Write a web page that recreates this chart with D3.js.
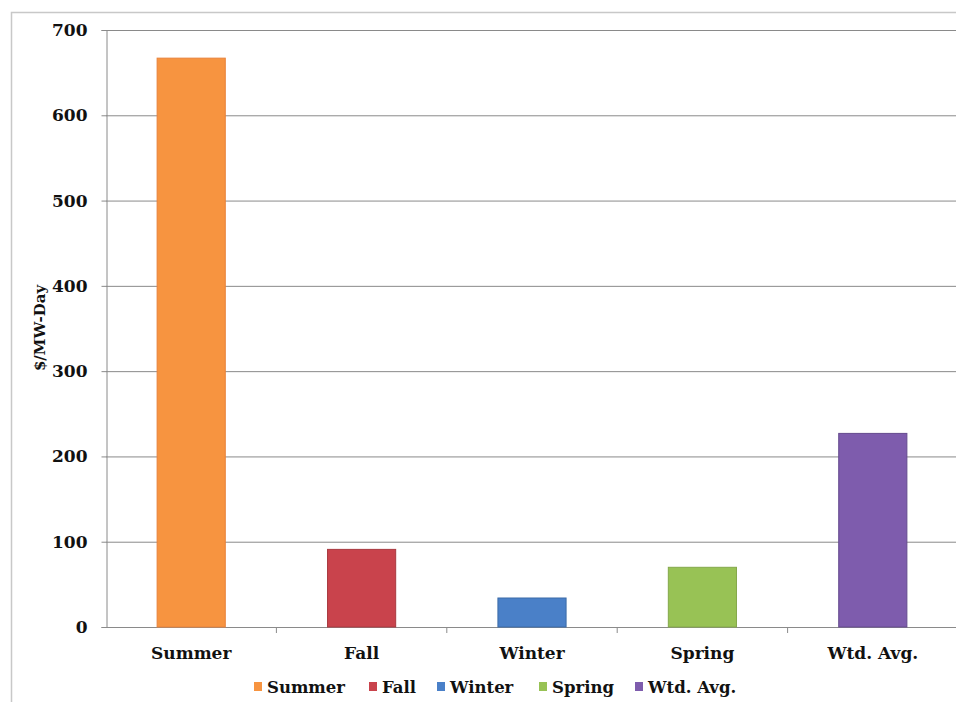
<!DOCTYPE html>
<html><head><meta charset="utf-8">
<script src="https://cdn.jsdelivr.net/npm/d3@7"></script>
<style>body{margin:0;background:#fff}svg{display:block}</style>
</head><body>
<script>
const categories = ["Summer","Fall","Winter","Spring","Wtd. Avg."];
const values = [667, 91, 34, 70, 227];
const colors = ["#F79440","#C9434C","#4A80C8","#98C255","#7E5CAD"];
const strokes = ["#E8823A","#A83A40","#3B6BA8","#84A84A","#654B8E"];
const yTicks = [0,100,200,300,400,500,600,700];

const W = 956, H = 702;
const svg = d3.select("body").append("svg").attr("width", W).attr("height", H);
const font = "'DejaVu Serif', serif";

// frame
svg.append("path").attr("d", `M11.5,${H} V12.5 H${W}`).attr("fill","none").attr("stroke","#c8c8c8").attr("stroke-width",1.5);

const x = d3.scaleBand().domain(categories).range([106, 958]).paddingInner(0.6).paddingOuter(0.3);
const y = d3.scaleLinear().domain([0,700]).range([627, 30]);

// gridlines
svg.append("g").selectAll("line").data(yTicks.filter(d=>d>0)).join("line")
  .attr("x1",106).attr("x2",W).attr("y1",d=>y(d)+0.5).attr("y2",d=>y(d)+0.5)
  .attr("stroke","#8a8a8a").attr("stroke-width",1);

// y axis
const yAxis = svg.append("g").attr("transform","translate(106.5,0)")
  .call(d3.axisLeft(y).tickValues(yTicks).tickSize(5).tickPadding(14));
yAxis.select(".domain").attr("stroke","#8a8a8a");
yAxis.selectAll(".tick line").attr("stroke","#8a8a8a");
yAxis.selectAll("text").attr("font-family",font).attr("font-weight","bold").attr("font-size",17).attr("fill","#111");

// x axis
const band = x.step();
const xAxis = svg.append("g").attr("transform","translate(0,627.5)")
  .call(d3.axisBottom(x).tickSize(0).tickPadding(19));
xAxis.select(".domain").attr("stroke","#8a8a8a").attr("d","M106,0H958");
xAxis.selectAll("text").attr("font-family",font).attr("font-weight","bold").attr("font-size",17).attr("fill","#111");
// category boundary ticks
svg.append("g").selectAll("line").data(categories.slice(1)).join("line")
  .attr("x1",d=>x(d)+x.bandwidth()/2 - band/2).attr("x2",d=>x(d)+x.bandwidth()/2 - band/2)
  .attr("y1",627).attr("y2",633).attr("stroke","#8a8a8a");

// bars
svg.append("g").selectAll("rect").data(categories).join("rect")
  .attr("x",d=>x(d)).attr("width",x.bandwidth())
  .attr("y",(d,i)=>y(values[i])).attr("height",(d,i)=>y(0)-y(values[i]))
  .attr("fill",(d,i)=>colors[i]).attr("stroke",(d,i)=>strokes[i]).attr("stroke-width",1);

// y title
svg.append("text").attr("transform","translate(40,328) rotate(-90)")
  .attr("text-anchor","middle").attr("dy","0.35em").attr("font-family",font).attr("font-weight","bold")
  .attr("font-size",15).attr("fill","#111").text("$/MW-Day");

// legend
const legend = svg.append("g").attr("transform","translate(0,687)");
const lx = [254, 369, 437, 539, 635];
categories.forEach((c,i)=>{
  const g = legend.append("g").attr("transform",`translate(${lx[i]},0)`);
  g.append("rect").attr("x",0).attr("y",-5).attr("width",8).attr("height",9).attr("fill",colors[i]);
  g.append("text").attr("x",13).attr("y",0).attr("dy","0.35em").attr("font-family",font)
    .attr("font-weight","bold").attr("font-size",16.5).attr("fill","#111").text(c);
});
</script>
</body></html>
